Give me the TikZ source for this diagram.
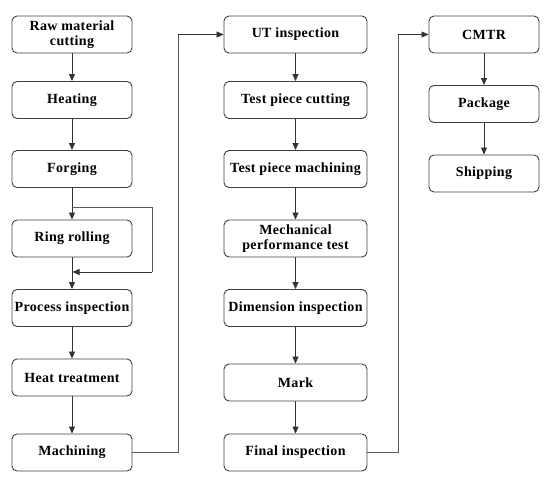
\documentclass[tikz,border=0pt]{standalone}
\usepackage{fontspec}
\setmainfont{Liberation Serif}
\newfontfamily\boxfont[LetterSpace=2.5]{Liberation Serif}
\usetikzlibrary{arrows.meta}
\begin{document}
\begin{tikzpicture}[x=1pt,y=-1pt,
  box/.style={draw=black!75,line width=0.9pt,rounded corners=5pt,fill=white,
    minimum height=37pt,align=center,font=\boxfont\bfseries\fontsize{14}{15.5}\selectfont,inner sep=1pt},
  b1/.style={box,minimum width=120pt},
  b2/.style={box,minimum width=143pt},
  b3/.style={box,minimum width=110pt},
  arr/.style={draw=black!80,line width=0.8pt,-{Triangle[length=7pt,width=6pt]}},
  ln/.style={draw=black!65,line width=0.8pt}]
\useasboundingbox (0,0) rectangle (552,487);
% column 1
\node[b1] (raw) at (72,34.5) {Raw material\\cutting};
\node[b1] (heat) at (72,100) {Heating};
\node[b1] (forg) at (72,169) {Forging};
\node[b1] (ring) at (72,238.5) {Ring rolling};
\node[b1] (proc) at (72,308) {Process inspection};
\node[b1] (ht) at (72,377.5) {Heat treatment};
\node[b1] (mach) at (72,452.5) {Machining};
% column 2
\node[b2] (ut) at (295.5,34.5) {UT inspection};
\node[b2] (tpc) at (295.5,100) {Test piece cutting};
\node[b2] (tpm) at (295.5,169) {Test piece machining};
\node[b2] (mech) at (295.5,238.5) {Mechanical\\performance test};
\node[b2] (dim) at (295.5,308) {Dimension inspection};
\node[b2] (mark) at (295.5,382.5) {Mark};
\node[b2] (fin) at (295.5,452.5) {Final inspection};
% column 3
\node[b3] (cmtr) at (484,34.5) {CMTR};
\node[b3] (pack) at (484,104) {Package};
\node[b3] (ship) at (484,173.5) {Shipping};
% arrows column 1
\draw[arr] (raw) -- (heat);
\draw[arr] (heat) -- (forg);
\draw[arr] (forg) -- (ring);
\draw[arr] (ring) -- (proc);
\draw[arr] (proc) -- (ht);
\draw[arr] (ht) -- (mach);
% bypass
\coordinate (bs) at (72,207);
\coordinate (bc1) at (152,207);
\coordinate (bc2) at (152,272);
\coordinate (be) at (72.5,272);
\draw[ln] (bs) -- (bc1) -- (bc2);
\draw[arr] (bc2) -- (be);
% column 2
\draw[arr] (ut) -- (tpc);
\draw[arr] (tpc) -- (tpm);
\draw[arr] (tpm) -- (mech);
\draw[arr] (mech) -- (dim);
\draw[arr] (dim) -- (mark);
\draw[arr] (mark) -- (fin);
% column 3
\draw[arr] (cmtr) -- (pack);
\draw[arr] (pack) -- (ship);
% links
\coordinate (l1) at (178,452.5);
\coordinate (l2) at (178,34.5);
\draw[ln] (mach.east) -- (l1) -- (l2);
\draw[arr] (l2) -- (ut.west);
\coordinate (m1) at (398,452.5);
\coordinate (m2) at (398,34.5);
\draw[ln] (fin.east) -- (m1) -- (m2);
\draw[arr] (m2) -- (cmtr.west);
\end{tikzpicture}
\end{document}
